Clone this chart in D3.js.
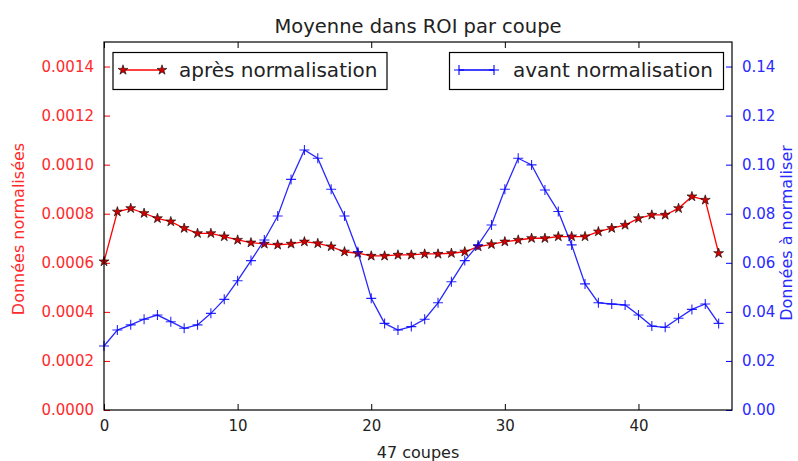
<!DOCTYPE html>
<html>
<head>
<meta charset="utf-8">
<script src="https://cdn.jsdelivr.net/npm/d3@7"></script>
<style>
  html, body { margin: 0; padding: 0; background: #fff; }
  svg { display: block; }
  text { font-family: "DejaVu Sans", sans-serif; }
</style>
</head>
<body>
<svg id="chart" width="798" height="461"></svg>
<script>
// ---- Data ----
const slices = d3.range(47); // 47 coupes, index 0..46
const apresNormalisation = [
  0.000605, 0.000808, 0.000822, 0.000802, 0.000781, 0.000768, 0.000741, 0.000720, 0.000720, 0.000707,
  0.000693, 0.000682, 0.000677, 0.000673, 0.000677, 0.000686, 0.000679, 0.000666, 0.000645, 0.000639,
  0.000628, 0.000628, 0.000632, 0.000632, 0.000636, 0.000636, 0.000639, 0.000645, 0.000666, 0.000675,
  0.000686, 0.000693, 0.000700, 0.000700, 0.000707, 0.000707, 0.000707, 0.000727, 0.000741, 0.000754,
  0.000781, 0.000795, 0.000795, 0.000822, 0.000870, 0.000856, 0.000639
];
const avantNormalisation = [
  0.0261, 0.0326, 0.0347, 0.0370, 0.0387, 0.0360, 0.0333, 0.0347, 0.0394, 0.0451,
  0.0527, 0.0609, 0.0693, 0.0791, 0.0940, 0.1060, 0.1026, 0.0900, 0.0791, 0.0645,
  0.0455, 0.0353, 0.0326, 0.0340, 0.0370, 0.0437, 0.0523, 0.0609, 0.0673, 0.0754,
  0.0900, 0.1026, 0.0999, 0.0897, 0.0809, 0.0673, 0.0514, 0.0437, 0.0432, 0.0428,
  0.0387, 0.0342, 0.0337, 0.0374, 0.0410, 0.0432, 0.0353
];
const xTicks = [0, 10, 20, 30, 40];
const leftTicks = [0, 0.0002, 0.0004, 0.0006, 0.0008, 0.0010, 0.0012, 0.0014];
const rightTicks = [0, 0.02, 0.04, 0.06, 0.08, 0.10, 0.12, 0.14];
const titleText = "Moyenne dans ROI par coupe";
const xLabel = "47 coupes";
const leftLabel = "Données normalisées";
const rightLabel = "Données à normaliser";
const legendLeft = "après normalisation";
const legendRight = "avant normalisation";

// ---- Layout ----
const L = 104, R = 732, T = 42, B = 410;
const RED = "#ff0000", BLUE = "#0000ff", TXT = "#222";
const RED_TXT = "#ff2a2a", BLUE_TXT = "#2a2aff";
const svg = d3.select("#chart");

const x = d3.scaleLinear().domain([0, 47]).range([L, R]);
const yL = d3.scaleLinear().domain([0, 0.0015]).range([B, T]);
const yR = d3.scaleLinear().domain([0, 0.15]).range([B, T]);

function starPath(r) {
  const ri = r * 0.381966;
  let p = "";
  for (let k = 0; k < 10; k++) {
    const rr = k % 2 === 0 ? r : ri;
    const a = -Math.PI / 2 + k * Math.PI / 5;
    p += (k === 0 ? "M" : "L") + (rr * Math.cos(a)).toFixed(3) + "," + (rr * Math.sin(a)).toFixed(3);
  }
  return p + "Z";
}
const STAR = starPath(5.2);
const PLUS = "M-5,0H5M0,-5V5";

// ---- Axes (ticks inside) ----
const tickLen = 6;
// bottom
svg.append("g").attr("transform", `translate(0,${B})`)
  .call(d3.axisBottom(x).tickValues(xTicks).tickSizeInner(-tickLen).tickSizeOuter(0).tickPadding(10).tickFormat(d3.format("d")))
  .call(g => g.select(".domain").remove())
  .call(g => g.selectAll("line").attr("stroke", "#000"))
  .call(g => g.selectAll("text").attr("fill", TXT).style("font-size", "15px").style("font-family", "DejaVu Sans"));
// top
svg.append("g").attr("transform", `translate(0,${T})`)
  .call(d3.axisTop(x).tickValues(xTicks).tickSizeInner(-tickLen).tickSizeOuter(0).tickFormat(""))
  .call(g => g.select(".domain").remove())
  .call(g => g.selectAll("line").attr("stroke", "#000"));
// left
svg.append("g").attr("transform", `translate(${L},0)`)
  .call(d3.axisLeft(yL).tickValues(leftTicks).tickSizeInner(-tickLen).tickSizeOuter(0).tickPadding(10).tickFormat(d3.format(".4f")))
  .call(g => g.select(".domain").remove())
  .call(g => g.selectAll("line").attr("stroke", RED))
  .call(g => g.selectAll("text").attr("fill", RED_TXT).style("font-size", "15px").style("font-family", "DejaVu Sans"));
// right
svg.append("g").attr("transform", `translate(${R},0)`)
  .call(d3.axisRight(yR).tickValues(rightTicks).tickSizeInner(-tickLen).tickSizeOuter(0).tickPadding(10).tickFormat(d3.format(".2f")))
  .call(g => g.select(".domain").remove())
  .call(g => g.selectAll("line").attr("stroke", BLUE))
  .call(g => g.selectAll("text").attr("fill", BLUE_TXT).style("font-size", "15px").style("font-family", "DejaVu Sans"));

// ---- Red series (left axis) ----
const lineL = d3.line().x((d, i) => x(slices[i])).y(d => yL(d));
svg.append("path").datum(apresNormalisation)
  .attr("d", lineL).attr("fill", "none").attr("stroke", RED).attr("stroke-width", 1.3);
svg.append("g").selectAll("path").data(apresNormalisation).join("path")
  .attr("transform", (d, i) => `translate(${x(slices[i])},${yL(d)})`)
  .attr("d", STAR).attr("fill", "#d40000").attr("stroke", "#000").attr("stroke-width", 0.6);

// left legend
const lg1 = svg.append("g");
lg1.append("rect").attr("x", 113).attr("y", 52.5).attr("width", 274).attr("height", 37)
  .attr("fill", "#fff").attr("stroke", "#000").attr("stroke-width", 1.2);
lg1.append("line").attr("x1", 123).attr("x2", 162).attr("y1", 70).attr("y2", 70)
  .attr("stroke", RED).attr("stroke-width", 1.3);
[123, 162].forEach(px => lg1.append("path").attr("transform", `translate(${px},70)`)
  .attr("d", STAR).attr("fill", "#d40000").attr("stroke", "#000").attr("stroke-width", 0.6));
lg1.append("text").attr("x", 179).attr("y", 77).attr("fill", TXT)
  .style("font-size", "20px").text(legendLeft);

// ---- Blue series (right axis) ----
const lineR = d3.line().x((d, i) => x(slices[i])).y(d => yR(d));
svg.append("path").datum(avantNormalisation)
  .attr("d", lineR).attr("fill", "none").attr("stroke", BLUE).attr("stroke-width", 1.3).attr("stroke-opacity", 0.85);
svg.append("g").selectAll("path").data(avantNormalisation).join("path")
  .attr("transform", (d, i) => `translate(${x(slices[i])},${yR(d)})`)
  .attr("d", PLUS).attr("fill", "none").attr("stroke", BLUE).attr("stroke-width", 1.1).attr("stroke-opacity", 0.85);

// right legend
const lg2 = svg.append("g");
lg2.append("rect").attr("x", 449.5).attr("y", 52.5).attr("width", 274).attr("height", 37)
  .attr("fill", "#fff").attr("stroke", "#000").attr("stroke-width", 1.2);
lg2.append("line").attr("x1", 459).attr("x2", 494).attr("y1", 70).attr("y2", 70)
  .attr("stroke", BLUE).attr("stroke-width", 1.3);
[459, 494].forEach(px => lg2.append("path").attr("transform", `translate(${px},70)`)
  .attr("d", PLUS).attr("fill", "none").attr("stroke", BLUE).attr("stroke-width", 1.1));
lg2.append("text").attr("x", 513).attr("y", 77).attr("fill", TXT)
  .style("font-size", "20px").text(legendRight);

// ---- Frame ----
svg.append("rect").attr("x", L).attr("y", T).attr("width", R - L).attr("height", B - T)
  .attr("fill", "none").attr("stroke", "#000").attr("stroke-width", 1.2);

// ---- Titles & labels ----
svg.append("text").attr("x", (L + R) / 2).attr("y", 33).attr("text-anchor", "middle")
  .attr("fill", TXT).style("font-size", "19.5px").text(titleText);
svg.append("text").attr("x", (L + R) / 2).attr("y", 458).attr("text-anchor", "middle")
  .attr("fill", TXT).style("font-size", "16px").text(xLabel);
svg.append("text").attr("transform", `translate(24,229) rotate(-90)`).attr("text-anchor", "middle")
  .attr("fill", RED_TXT).style("font-size", "16px").text(leftLabel);
svg.append("text").attr("transform", `translate(792,233) rotate(-90)`).attr("text-anchor", "middle")
  .attr("fill", BLUE_TXT).style("font-size", "16px").text(rightLabel);
</script>
</body>
</html>
